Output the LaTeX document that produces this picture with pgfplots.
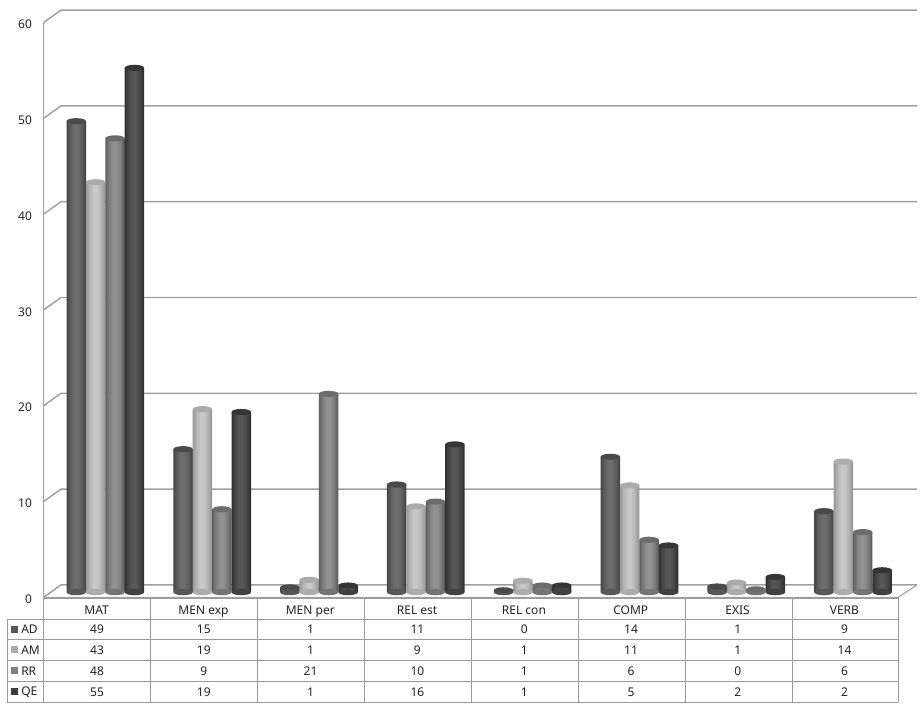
\documentclass[border=0pt]{standalone}
\usepackage{pgfplots}
\usepackage{pgfplotstable}
\usepackage{fontspec}
\setmainfont{Noto Sans}
\pgfplotsset{compat=1.18}

% heights read off the bars (the table under the chart shows them rounded)
\pgfplotstableread{
idx AD AM RR QE
0 49.4 43.0 47.6 55.0
1 15.0 19.2 8.7 18.9
2 0.5 1.3 20.8 0.7
3 11.3 9.0 9.5 15.5
4 0.2 1.2 0.7 0.7
5 14.2 11.2 5.5 4.9
6 0.6 1.0 0.3 1.6
7 8.5 13.7 6.3 2.3
}\heights

\pgfdeclareplotmark{cyl}{%
  \pgfpathellipse{\pgfpointorigin}{\pgfqpoint{7.3pt}{0pt}}{\pgfqpoint{0pt}{2.3pt}}%
  \pgfusepathqfill}

\definecolor{wall}{HTML}{A0A0A0}
\definecolor{rule}{HTML}{9A9A9A}
\definecolor{txt}{HTML}{222222}
\definecolor{adE}{HTML}{444444}
\definecolor{adM}{HTML}{6E6E6E}
\definecolor{adT}{HTML}{4A4A4A}
\definecolor{amE}{HTML}{969696}
\definecolor{amM}{HTML}{C8C8C8}
\definecolor{amT}{HTML}{ABABAB}
\definecolor{rrE}{HTML}{5C5C5C}
\definecolor{rrM}{HTML}{929292}
\definecolor{rrT}{HTML}{6C6C6C}
\definecolor{qeE}{HTML}{303030}
\definecolor{qeM}{HTML}{565656}
\definecolor{qeT}{HTML}{353535}

% one slice of a cylinder: column, offset, width, colour
\newcommand{\slice}[4]{%
  \addplot[ybar, bar width=#3, bar shift=0pt, draw=none, fill=#4]
    table[x expr=\thisrow{idx}+#2, y=#1] {\heights};
}
% column, offset in the category, edge colour, middle colour, top colour
\newcommand{\cyl}[5]{%
  \addplot[only marks, mark=cyl, mark options={fill=#4!45!#3, draw=none}]
    table[x expr=\thisrow{idx}+#2, y expr=0] {\heights};
  \slice{#1}{#2}{14.6pt}{#3}
  \slice{#1}{#2}{13.4pt}{#4!17!#3}
  \slice{#1}{#2}{12pt}{#4!33!#3}
  \slice{#1}{#2}{10.4pt}{#4!50!#3}
  \slice{#1}{#2}{8.6pt}{#4!67!#3}
  \slice{#1}{#2}{6.4pt}{#4!83!#3}
  \slice{#1}{#2}{3.6pt}{#4}
  \addplot[only marks, mark=cyl, mark options={fill=#5, draw=none}]
    table[x expr=\thisrow{idx}+#2, y=#1] {\heights};
}

\begin{document}
\begin{tikzpicture}[x=0.75pt,y=0.75pt]
\useasboundingbox (0,0) rectangle (922,711);

% walls and gridlines, in pixels of the reference
\begin{scope}[y=-0.75pt, shift={(0,-711)}]
  \foreach \v in {22.6,118.4,214.2,310,405.8,501.6,597.4} {
    \draw[wall, line width=1.1pt] (43.5,\v) -- ++(17.5,-12.5) -- ++(856,0);
  }
  \draw[wall, line width=1.1pt] (43.5,22.6) -- (43.5,597.4);
  \draw[wall, line width=0.8pt] (43.5,597.4) -- (898,597.4) -- (917,585);
\end{scope}

% ticks and labels on the front plane
\begin{axis}[
    at={(40.5,116.6)}, anchor=south west,
    scale only axis,
    width=640.9pt, height=431.1pt,
    xmin=0, xmax=8, ymin=0, ymax=60,
    axis x line=bottom, axis y line=left,
    axis line style={draw=none, -},
    major tick length=0pt,
    xtick={0.5,1.5,2.5,3.5,4.5,5.5,6.5,7.5},
    xticklabels={MAT,MEN exp,MEN per,REL est,REL con,COMP,EXIS,VERB},
    ytick={0,10,20,30,40,50,60},
    /pgf/number format/assume math mode=true,
    tick label style={font=\fontsize{9}{11}\selectfont, text=txt},
    x tick label style={yshift=-1.2pt},
    y tick label style={xshift=-5pt},
]
\end{axis}

% bars stand a little behind the front plane
\begin{axis}[
    at={(41.2,124.6)}, anchor=south west,
    scale only axis,
    width=640.9pt, height=429.05pt,
    xmin=0, xmax=8, ymin=0, ymax=60,
    clip=false,
    hide axis,
]
\cyl{AD}{0.302}{adE}{adM}{adT}
\cyl{AM}{0.483}{amE}{amM}{amT}
\cyl{RR}{0.665}{rrE}{rrM}{rrT}
\cyl{QE}{0.847}{qeE}{qeM}{qeT}
\end{axis}

% data table under the chart
\begin{scope}[y=-0.75pt, shift={(0,-711)}]
  \foreach \v in {619,639.5,660.5,681.5,702} {
    \draw[rule, line width=0.7pt] (7,\v) -- (898,\v);
  }
  \draw[rule, line width=0.7pt] (43.5,598) -- (898,598);
  \draw[rule, line width=0.7pt] (7,619) -- (7,702);
  \foreach \x in {43.5,150.5,257.5,364.5,471,578,685,792,898} {
    \draw[rule, line width=0.7pt] (\x,598) -- (\x,702);
  }
  \tikzset{cell/.style={font=\fontsize{9}{11}\selectfont, text=txt, inner sep=0pt}}
  \foreach \n/\c/\y in {AD/555555/629.5, AM/AAAAAA/650, RR/808080/671, QE/3C3C3C/692} {
    \definecolor{key}{HTML}{\c}
    \fill[key] (11,\y-3.5) rectangle (18,\y+3.5);
    \node[cell, anchor=west] at (21,\y) {\n};
  }
  \foreach \y/\vals in {
      629.5/{49,15,1,11,0,14,1,9},
      650/{43,19,1,9,1,11,1,14},
      671/{48,9,21,10,1,6,0,6},
      692/{55,19,1,16,1,5,2,2}} {
    \foreach \t [count=\i from 0] in \vals {
      \node[cell] at (97+106.8*\i,\y) {\t};
    }
  }
\end{scope}
\end{tikzpicture}
\end{document}
